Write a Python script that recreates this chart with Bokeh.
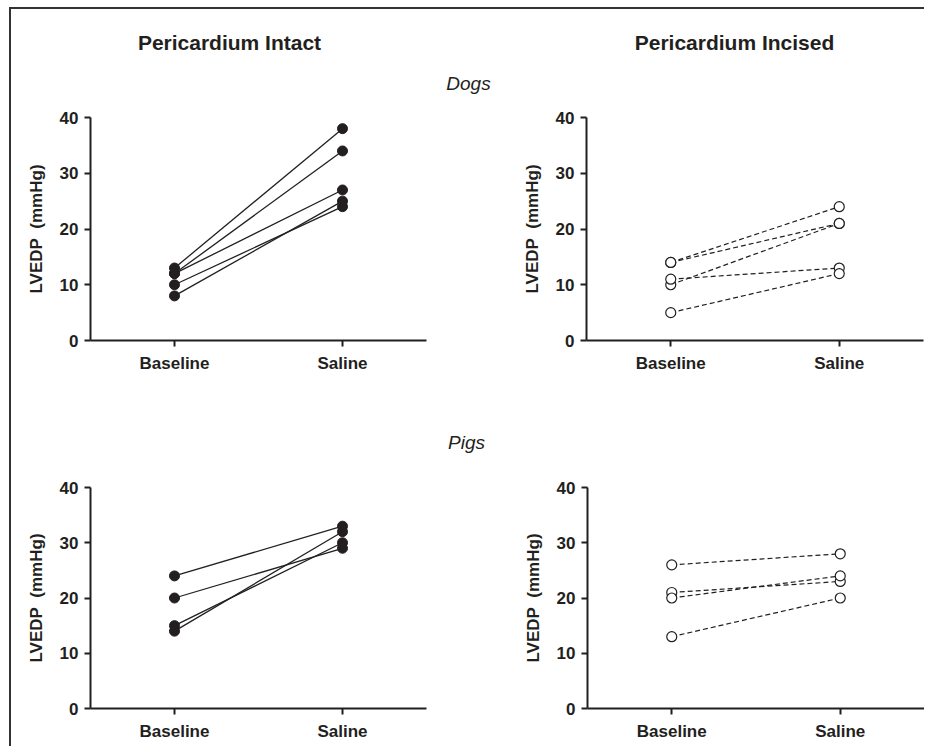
from bokeh.plotting import figure
from bokeh.layouts import column, row
from bokeh.models import Range1d, FixedTicker
from bokeh.core.properties import value
from bokeh.embed import file_html
from bokeh.resources import INLINE

# ---- data ----
conditions = ["Baseline", "Saline"]
y_ticks = [0, 10, 20, 30, 40]

dogs_intact_baseline = [13, 12, 12, 10, 8]
dogs_intact_saline = [38, 34, 27, 24, 25]

dogs_incised_baseline = [14, 14, 10, 11, 5]
dogs_incised_saline = [24, 21, 21, 13, 12]

pigs_intact_baseline = [24, 20, 15, 14]
pigs_intact_saline = [33, 29, 30, 32]

pigs_incised_baseline = [26, 21, 20, 13]
pigs_incised_saline = [28, 23, 24, 20]

col_titles = ["Pericardium Intact", "Pericardium Incised"]
row_titles = ["Dogs", "Pigs"]
y_label = "LVEDP\u00a0 (mmHg)"

INK = "#231f20"
FONT = value("Liberation Sans")
TOTAL_W = 913


def header(h):
    p = figure(width=TOTAL_W, height=h, x_range=Range1d(0, TOTAL_W), y_range=Range1d(h, 0),
               output_backend="svg", toolbar_location=None, min_border=0)
    p.axis.visible = False
    p.grid.visible = False
    p.outline_line_color = None
    return p


def panel(base, sal, filled, w, h, bl, br, bt, bb):
    p = figure(width=w, height=h, x_range=conditions, y_range=Range1d(0, 40),
               output_backend="svg", toolbar_location=None,
               min_border_left=bl, min_border_right=br, min_border_top=bt, min_border_bottom=bb)
    p.grid.visible = False
    p.outline_line_color = None
    p.yaxis.ticker = FixedTicker(ticks=y_ticks)
    for ax in (p.xaxis[0], p.yaxis[0]):
        ax.axis_line_width = 2
        ax.axis_line_color = INK
        ax.major_tick_line_width = 2
        ax.major_tick_line_color = INK
        ax.major_tick_out = 6
        ax.major_tick_in = 0
        ax.minor_tick_line_color = None
        ax.major_label_text_font = "Liberation Sans"
        ax.major_label_text_font_style = "bold"
        ax.major_label_text_font_size = "17px"
        ax.major_label_text_color = INK
    p.xaxis.major_label_standoff = 7
    p.yaxis.major_label_standoff = 6
    p.yaxis.axis_label = y_label
    p.yaxis.axis_label_text_font = "Liberation Sans"
    p.yaxis.axis_label_text_font_style = "bold"
    p.yaxis.axis_label_text_font_size = "17px"
    p.yaxis.axis_label_text_color = INK
    p.yaxis.axis_label_standoff = 11
    xs = [conditions[:] for _ in base]
    ys = [[b, s] for b, s in zip(base, sal)]
    if filled:
        p.multi_line(xs=xs, ys=ys, line_color=INK, line_width=1.3)
        p.scatter(x=["Baseline"] * len(base), y=base, marker="circle", size=10,
                  fill_color=INK, line_color=INK)
        p.scatter(x=["Saline"] * len(sal), y=sal, marker="circle", size=10,
                  fill_color=INK, line_color=INK)
    else:
        p.multi_line(xs=xs, ys=ys, line_color=INK, line_width=1.2, line_dash="5 3")
        p.scatter(x=["Baseline"] * len(base), y=base, marker="circle", size=10,
                  fill_color="white", line_color=INK, line_width=1.2)
        p.scatter(x=["Saline"] * len(sal), y=sal, marker="circle", size=10,
                  fill_color="white", line_color=INK, line_width=1.2)
    return p


top_header = header(90)
top_header.text(x=[218, 723], y=[33, 33], text=col_titles, text_align="center",
                text_baseline="middle", text_font=FONT, text_font_style="bold",
                text_font_size="21px", text_color=INK)
top_header.text(x=[457], y=[74], text=[row_titles[0]], text_align="center",
                text_baseline="middle", text_font=FONT, text_font_style="italic",
                text_font_size="19px", text_color=INK)

tl = panel(dogs_intact_baseline, dogs_intact_saline, True, 490, 280, 79, 75, 17, 39)
tr = panel(dogs_incised_baseline, dogs_incised_saline, False, 423, 280, 85, 1, 18, 38)

mid_header = header(90)
mid_header.text(x=[455], y=[63], text=[row_titles[1]], text_align="center",
                text_baseline="middle", text_font=FONT, text_font_style="italic",
                text_font_size="19px", text_color=INK)

bl = panel(pigs_intact_baseline, pigs_intact_saline, True, 490, 277, 79, 75, 16, 38)
br = panel(pigs_incised_baseline, pigs_incised_saline, False, 423, 277, 86, 0, 18, 36)

layout = column(top_header, row(tl, tr), mid_header, row(bl, br),
                styles={"border-left": "2px solid #333", "border-top": "2px solid #333",
                        "margin-left": "9px", "margin-top": "7px"})

open("out.html", "w").write(file_html(layout, INLINE))
